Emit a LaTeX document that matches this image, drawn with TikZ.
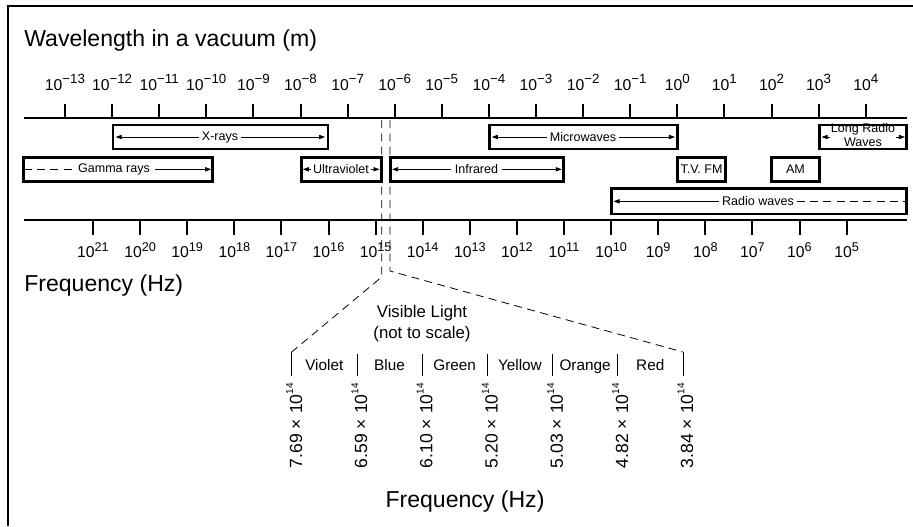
\documentclass[tikz,border=0pt]{standalone}
\usepackage{fontspec}
\setmainfont{Liberation Sans}
\usetikzlibrary{arrows.meta}
\newcommand\supA[1]{\raisebox{5pt}{\fontsize{10}{10}\selectfont #1}}
\newcommand\supB[1]{\raisebox{4.2pt}{\fontsize{9.5}{10}\selectfont #1}}
\newcommand\supC[1]{\raisebox{6.6pt}{\fontsize{7.5}{7.5}\selectfont #1}}
\begin{document}
\begin{tikzpicture}[x=0.75pt,y=-0.75pt,
  frame/.style={line width=1.5pt},
  axis/.style={line width=1.5pt},
  tick/.style={line width=1.5pt},
  band/.style={draw, line width=2pt, outer sep=0pt, inner sep=0pt, minimum height=18pt},
  blab/.style={font=\fontsize{9.4}{10.6}\selectfont, inner sep=1.8pt},
  arr/.style={line width=0.6pt, -{Triangle[length=4.5pt,width=3.2pt]}},
  thinl/.style={line width=0.6pt},
  dsh/.style={line width=0.6pt, dash pattern=on 6pt off 4pt},
  title/.style={font=\fontsize{17.3}{20}\selectfont, inner sep=0pt},
  tlab/.style={font=\fontsize{11.8}{12}\selectfont, inner sep=0pt},
  clab/.style={font=\fontsize{11.5}{12}\selectfont, inner sep=0pt},
  vlab/.style={font=\fontsize{12.6}{14}\selectfont, inner sep=0pt},
  rlab/.style={font=\fontsize{13.2}{14}\selectfont, inner sep=0pt},
]
\useasboundingbox (0,0) rectangle (913,526);
% frame
\draw[frame] (7.5,526) -- (7.5,6) -- (913,6);

% titles
\node[title, anchor=base west] (wl) at (24,46) {Wavelength in a vacuum (m)};
\node[title, anchor=base west] (fl) at (24,291) {Frequency (Hz)};
\node[title, anchor=base] (fb) at (465,507) {Frequency (Hz)};

% axes
\draw[axis] (24,118.3) -- (907,118.3);
\draw[axis] (24,220.2) -- (907,220.2);

% wavelength ticks
\foreach \i/\s in {0/−13,1/−12,2/−11,3/−10,4/−9,5/−8,6/−7,7/−6,8/−5,9/−4,10/−3,11/−2,12/−1,13/0,14/1,15/2,16/3,17/4}{
  \draw[tick] ({65+\i*47.1},103.5) -- ({65+\i*47.1},118.3);
  \node[tlab, anchor=base] (w\i) at ({65+\i*47.1},90) {10\supA{\s}};
}
% frequency ticks
\foreach \i/\s in {0/21,1/20,2/19,3/18,4/17,5/16,6/15,7/14,8/13,9/12,10/11,11/10,12/9,13/8,14/7,15/6,16/5}{
  \draw[tick] ({93+\i*47.1},220.2) -- ({93+\i*47.1},235);
  \node[tlab, anchor=base] (f\i) at ({93+\i*47.1},257) {10\supB{\s}};
}

% row 1
\node[band, minimum width=161.25pt] (xb) at (220.5,137) {};
\node[blab] (xt) at (220,137) {X-rays};
\draw[arr] (xt.west) -- ([xshift=2pt]xb.west);
\draw[arr] (xt.east) -- ([xshift=-2.2pt]xb.east);

\node[band, minimum width=141.2pt] (mb) at (583.65,137) {};
\node[blab] (mt) at (583,137) {Microwaves};
\draw[arr] (mt.west) -- ([xshift=1.7pt]mb.west);
\draw[arr] (mt.east) -- ([xshift=-2.1pt]mb.east);

\node[band, minimum width=65.3pt] (lb) at (862.75,137) {};
\node[blab, anchor=base, inner sep=0.8pt] (lt1) at (863,132.5) {Long Radio};
\node[blab, anchor=base, inner sep=0pt] (lt2) at (863,146.3) {Waves};
\draw[arr] (lt1.west |- lb.center) -- ([xshift=1.8pt]lb.west);
\draw[arr] (lt1.east |- lb.center) -- ([xshift=-1pt]lb.east);

% row 2
\node[band, minimum width=141.5pt] (gb) at (118.15,169.3) {};
\node[blab, inner sep=4pt] (gt) at (114,169.3) {Gamma rays};
\draw[dsh] (gb.west) -- (gt.west);
\draw[arr] (gt.east) -- ([xshift=-1pt]gb.east);

\node[band, minimum width=60pt] (ub) at (341.2,169.3) {};
\node[blab, inner sep=1.2pt] (ut) at (341,169.3) {Ultraviolet};
\draw[arr] (ut.west) -- ([xshift=1.2pt]ub.west);
\draw[arr] (ut.east) -- ([xshift=-1.2pt]ub.east);

\node[band, minimum width=129.75pt] (ib) at (477,169.3) {};
\node[blab, inner sep=2.5pt] (it) at (476.5,169.3) {Infrared};
\draw[arr] (it.west) -- ([xshift=1.2pt]ib.west);
\draw[arr] (it.east) -- ([xshift=-1.3pt]ib.east);

\node[band, minimum width=35.55pt] (tb) at (701.5,169.3) {};
\node[blab, inner sep=0pt] (tt) at (701.5,169.3) {T.V. FM};

\node[band, minimum width=35.55pt] (ab) at (795.5,169.3) {};
\node[blab] (at) at (795.5,169.3) {AM};

% row 3
\node[band, minimum width=221.25pt, minimum height=19pt] (rb) at (759,201.3) {};
\node[blab, inner sep=2pt] (rt) at (758,201.3) {Radio waves};
\draw[arr] (rt.west) -- ([xshift=1.5pt]rb.west);
\draw[dsh] (rt.east) -- (rb.east);

% visible light zoom
\coordinate (vl1) at (381.7,120);
\coordinate (vl2) at (381.7,277);
\coordinate (vl3) at (291.7,352);
\coordinate (vr1) at (390,120);
\coordinate (vr2) at (390,271);
\coordinate (vr3) at (683,352);
\draw[dsh] (vl1) -- (vl2) -- (vl3);
\draw[dsh] (vr1) -- (vr2) -- (vr3);

\coordinate (vb0) at (291.7,376);
\coordinate (vb6) at (683,376);
\draw[thinl] (vl3) -- (vb0);
\draw[thinl] (vr3) -- (vb6);
\foreach \i in {1,...,5}{
  \draw[thinl] ({291.7+\i*65.2},354) -- ({291.7+\i*65.2},376);
}
\foreach \i/\c in {0/Violet,1/Blue,2/Green,3/Yellow,4/Orange,5/Red}{
  \node[clab, anchor=base] (c\i) at ({291.7+(\i+0.5)*65.2},370) {\c};
}
\node[vlab, anchor=base] (vis1) at (422,317) {Visible Light};
\node[vlab, anchor=base] (vis2) at (422,338) {(not to scale)};

\foreach \i/\val in {0/7.69,1/6.59,2/6.10,3/5.20,4/5.03,5/4.82,6/3.84}{
  \node[rlab, rotate=90, anchor=base east] (r\i) at ({291.7+\i*65.2+10.3},383) {\val{} × 10\supC{14}};
}
\end{tikzpicture}
\end{document}
